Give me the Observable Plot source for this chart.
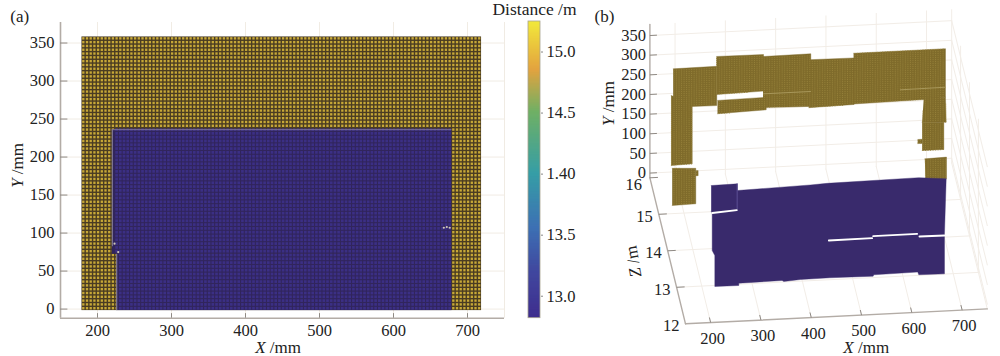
<!DOCTYPE html>
<html>
<head>
<meta charset="utf-8">
<script src="https://cdn.jsdelivr.net/npm/d3@7"></script>
<script src="https://cdn.jsdelivr.net/npm/@observablehq/plot@0.6"></script>
<style>
html,body{margin:0;padding:0;background:#fff}
#chart{position:relative;width:1000px;height:356px;overflow:hidden}
#chart svg{position:absolute;left:0;top:0}
#chart svg, #chart svg text, #chart svg tspan{font-family:'Liberation Serif','DejaVu Serif',serif !important;font-variant:normal !important;font-variant-numeric:normal !important}
</style>
</head>
<body>
<div id="chart"></div>
<script>
// ---- axis ticks ----
const xTicksA = [200, 300, 400, 500, 600, 700];
const yTicksA = [0, 50, 100, 150, 200, 250, 300, 350];
const xTicksB = [200, 300, 400, 500, 600, 700];
const yTicksB = [0, 50, 100, 150, 200, 250, 300, 350];
const zTicksB = [12, 13, 14, 15, 16];
const barTicks = [13, 13.5, 14, 14.5, 15];
const barTickLabels = ["13.0", "13.5", "1.40", "14.5", "15.0"];

// ---- distances ----
const wallDistance = 15.05;
const doorDistance = 12.9;
const colorStops = [12.82, 13.2, 13.55, 14, 14.5, 14.85, 15.25];
const colorRange = ["#3f2e8e", "#40489f", "#3d70b4", "#369ea6", "#6fb065", "#e3a33f", "#f2ea3b"];

// ---- panel (a): sampled grid, mm ----
const gridX = d3.range(179, 719, 5);
const gridY = d3.range(-2, 358, 5);
const doorEdges = [
  {below: 72, left: 226, right: 679},
  {below: 82, left: 223, right: 679},
  {below: 236, left: 220, right: 679}
];
const edgeSpecks = [[228, 75], [223, 86], [668, 107], [672, 108], [676, 107]];

// ---- panel (b): pieces of the wall, [X mm, Y mm] ----
const wallPieces = [
  [[178.4,94],[225.3,91],[225.3,0.7],[178.4,-0.7]],
  [[225,85],[230,85],[230,72],[225,72]],
  [[176.4,279],[218.2,264],[218.2,103],[176.4,101]],
  [[180.4,347],[267,348],[267,248],[180.4,249]],
  [[266.5,373],[360,372],[360,279],[266.5,276]],
  [[268.5,261],[365.3,263],[365.3,231],[268.5,227]],
  [[359,367],[454,368],[454,234],[359,237]],
  [[450,353],[540,352],[540,233.5],[450,231]],
  [[539,364],[721.7,364],[721.7,240.6],[678.6,237.5],[539,235]],
  [[678.6,242.5],[721.7,240.6],[723.1,177],[675.4,180]],
  [[675.4,180],[718.4,177],[718.4,107.7],[675.4,108]],
  [[666.7,136.5],[675.4,136.5],[675.4,126],[666.7,126]],
  [[680.6,86.4],[723.8,88],[723.8,33],[682,31]]
];
const wallSeams = [
  [[360,272],[453.4,272]],
  [[632,265],[721.7,266]]
];
const doorOutline = [
  [217,252],[268.7,253],[268.7,236],[414.4,241],[447.6,243],[629.7,246],[684.2,240],
  [680.8,100],[680.8,-2],[629.7,-1],[627.7,6],[540.2,4.5],[539,1],[452.8,2.4],[394.5,1.7],
  [361.3,-1.3],[358,1.5],[271.9,0],[271.9,-5.8],[224.2,-5.4],[224.2,73.5],[219,86.6],[219,180],[217,186]
];
const doorGaps = [
  [[219,182],[268,186]],
  [[450.8,97.4],[537,97.8]],
  [[539,102.8],[626.5,103.4]],
  [[631,96.2],[680.8,95.6]]
];
const doorSeam = [[268.7,253],[268.7,190]];

// ---- helpers ----
const serif = "'Liberation Serif', 'DejaVu Serif', serif";
const colorOpts = {type: "linear", domain: colorStops, range: colorRange};
const chart = document.getElementById("chart");
const common = {width: 1000, height: 356, style: {background: "transparent", fontFamily: serif, fontSize: "16.5px", color: "#222"}};

function italicise(svg) {
  d3.select(svg).selectAll("text").each(function () {
    const m = /^([XYZ]) (\/mm?)$/.exec(this.textContent.trim());
    if (!m) return;
    const el = d3.select(this);
    el.text("");
    el.append("tspan").attr("font-style", "italic").text(m[1]);
    el.append("tspan").text(" " + m[2]);
  });
  return svg;
}

// ---- panel (a) ----
const cells = [];
for (const x of gridX) for (const y of gridY) {
  const band = doorEdges.find(d => y < d.below);
  const inDoor = band && x >= band.left && x + 5 <= band.right + 2;
  cells.push({x, y, v: inDoor ? doorDistance : wallDistance});
}
const wallCells = cells.filter(d => d.v === wallDistance);
const doorCells = cells.filter(d => d.v === doorDistance);

const plotA = Plot.plot({
  ...common,
  marginLeft: 60, marginRight: 496, marginTop: 22, marginBottom: 38.3,
  x: {domain: [150, 750]},
  y: {domain: [-12, 377]},
  color: colorOpts,
  marks: [
    Plot.gridX(xTicksA, {stroke: "#f1ece4", strokeOpacity: 1, y1: -12, y2: 377}),
    Plot.gridY(yTicksA, {stroke: "#f1ece4", strokeOpacity: 1, x1: 150, x2: 750}),
    Plot.ruleX([750], {stroke: "#f0ebe3"}),
    Plot.rect([{}], {x1: 179, x2: 719, y1: -2, y2: 358, fill: "#4a3c22"}),
    Plot.rect(wallCells, {x1: "x", x2: d => d.x + 5, y1: "y", y2: d => d.y + 5, fill: "v", inset: 0.7, fillOpacity: 0.78}),
    Plot.rect([{}], {x1: 220, x2: 679, y1: 72, y2: 236, fill: "#31255c"}),
    Plot.rect([{}], {x1: 226, x2: 679, y1: -2, y2: 72, fill: "#31255c"}),
    Plot.rect(doorCells, {x1: "x", x2: d => d.x + 5, y1: "y", y2: d => d.y + 5, fill: "v", inset: 0.55, fillOpacity: 0.76}),
    Plot.ruleX([220], {y1: 82, y2: 236, stroke: "#a39db2", strokeWidth: 0.8}),
    Plot.ruleX([226], {y1: -2, y2: 72, stroke: "#a39db2", strokeWidth: 0.8}),
    Plot.ruleY([236], {x1: 220, x2: 679, stroke: "#8d83a3", strokeWidth: 0.8}),
    Plot.dot(edgeSpecks, {x: d => d[0], y: d => d[1], r: 1.1, fill: "#cfc7b8", stroke: "none"}),
    Plot.ruleX([150], {stroke: "#b3aca6", strokeWidth: 1.6}),
    Plot.ruleY([-12], {stroke: "#b3aca6", strokeWidth: 1.6}),
    Plot.ruleX(xTicksA, {y1: -12, y2: -6, stroke: "#8f8a85"}),
    Plot.ruleY(yTicksA, {x1: 150, x2: 160, stroke: "#8f8a85"}),
    Plot.axisX(xTicksA, {tickSize: 0, tickPadding: 6, fontSize: 16.5, label: null, tickFormat: d => d}),
    Plot.axisY(yTicksA, {tickSize: 0, tickPadding: 6, fontSize: 16.5, label: null, tickFormat: d => d}),
    Plot.text(["X /mm"], {x: 444, y: -50, fontSize: 17}),
    Plot.text(["Y /mm"], {x: 92.6, y: 189, rotate: -90, fontSize: 17}),
    Plot.text(["(a)"], {x: 95, y: 385, fontSize: 17})
  ]
});
chart.appendChild(italicise(plotA));

// ---- colour bar ----
const barValues = d3.range(12.82, 15.25, 0.01);
const plotBar = Plot.plot({
  ...common,
  marginLeft: 528, marginRight: 460, marginTop: 21, marginBottom: 38.3,
  x: {domain: [0, 1], axis: null},
  y: {domain: [12.82, 15.25]},
  color: colorOpts,
  marks: [
    Plot.rect(barValues, {x1: 0, x2: 1, y1: d => d, y2: d => Math.min(15.25, d + 0.025), fill: d => d}),
    Plot.rect([{}], {x1: 0, x2: 1, y1: 12.82, y2: 15.25, stroke: "#a8a490", strokeWidth: 0.8}),
    Plot.axisY(barTicks, {anchor: "right", tickSize: 2, tickPadding: 4, fontSize: 16.5, label: null, stroke: "#888",
      tickFormat: d => barTickLabels[barTicks.indexOf(d)]}),
    Plot.text(["Distance /m"], {x: 0.5, y: 15.35, fontSize: 17.5})
  ]
});
chart.appendChild(plotBar);

// ---- panel (b): fixed oblique view of the box ----
function view(X, Y, Z) {
  return {
    u: 685 + 0.503 * (X - 150) - 8.9 * (Z - 12),
    v: 323.3 - 0.0248 * (X - 150) - 36.5 * (Z - 12) - 0.393 * (Y + 12)
  };
}
const X0 = 150, X1 = 750, Y0 = -12, Y1 = 378, Z0 = 12, Z1 = 16;
const wallZ = 15.1, doorZ = 12.9;

function segment(id, a, b) {
  return [{id, ...view(...a)}, {id, ...view(...b)}];
}
const gridLines = [];
let n = 0;
for (const x of xTicksB) {
  gridLines.push(...segment(n++, [x, Y0, Z1], [x, Y1, Z1]));
  gridLines.push(...segment(n++, [x, Y0, Z0], [x, Y0, Z1]));
}
for (const y of yTicksB) {
  gridLines.push(...segment(n++, [X0, y, Z1], [X1, y, Z1]));
  gridLines.push(...segment(n++, [X1, y, Z0], [X1, y, Z1]));
}
for (const z of zTicksB.slice(1, -1)) {
  gridLines.push(...segment(n++, [X0, Y0, z], [X1, Y0, z]));
  gridLines.push(...segment(n++, [X1, Y0, z], [X1, Y1, z]));
}
gridLines.push(...segment(n++, [X1, Y0, Z0], [X1, Y0, Z1]));
gridLines.push(...segment(n++, [X1, Y0, Z1], [X1, Y1, Z1]));

const axisLines = [
  ...segment("x", [X0, Y0, Z0], [X1, Y0, Z0]),
  ...segment("z", [X0, Y0, Z0], [X0, Y0, Z1]),
  ...segment("y", [X0, Y0, Z1], [X0, Y1, Z1])
];

const pathRows = (list, z) => list.flatMap((p, id) => p.map(([X, Y]) => ({id, ...view(X, Y, z)})));
const wallRows = pathRows(wallPieces, wallZ);
const seamRows = pathRows(wallSeams, wallZ);
const doorRows = doorOutline.map(([X, Y]) => ({id: 0, ...view(X, Y, doorZ)}));
const gapRows = pathRows(doorGaps, doorZ);
const doorSeamRows = pathRows([doorSeam], doorZ);

const wallDots = [];
for (let x = 177; x < 725; x += 5) for (let y = -2; y < 375; y += 5) {
  if (wallPieces.some(p => d3.polygonContains(p, [x, y]))) wallDots.push(view(x, y, wallZ));
}

const xTickRows = xTicksB.map(t => ({t, a: view(t, Y0, Z0), b: view(t, Y0, Z0 + 0.14)}));
const yTickRows = yTicksB.map(t => ({t, a: view(X0, t, Z1), b: view(X0 + 14, t, Z1)}));
const zTickRows = zTicksB.slice(1).map(t => ({t, a: view(X0, Y0, t), b: view(X0 + 16, Y0, t)}));
const zLabelRows = zTicksB.map(t => ({t, a: view(X0, Y0, t)}));

const plotB = Plot.plot({
  ...common,
  margin: 0,
  x: {type: "identity", axis: null},
  y: {type: "identity", axis: null},
  marks: [
    Plot.line(gridLines, {x: "u", y: "v", z: "id", stroke: "#f2ede7", strokeWidth: 1}),
    Plot.line(wallRows, {x: "u", y: "v", z: "id", fill: "#7f6b2b", stroke: "#7f6b2b", strokeWidth: 0.4}),
    Plot.dot(wallDots, {x: "u", y: "v", r: 0.6, fill: "#95803a", stroke: "none"}),
    Plot.line(seamRows, {x: "u", y: "v", z: "id", stroke: "#a8975a", strokeWidth: 1}),
    Plot.line(doorRows, {x: "u", y: "v", z: "id", fill: "#392a6c", stroke: "#392a6c", strokeWidth: 0.4}),
    Plot.line(doorSeamRows, {x: "u", y: "v", z: "id", stroke: "#574a8e", strokeWidth: 1.2}),
    Plot.line(gapRows, {x: "u", y: "v", z: "id", stroke: "#ffffff", strokeWidth: 1.8}),
    Plot.line(axisLines, {x: "u", y: "v", z: "id", stroke: "#b3aca6", strokeWidth: 1.4}),
    Plot.link(xTickRows, {x1: d => d.a.u, y1: d => d.a.v, x2: d => d.b.u, y2: d => d.b.v, stroke: "#8f8a85"}),
    Plot.link(yTickRows, {x1: d => d.a.u, y1: d => d.a.v, x2: d => d.b.u, y2: d => d.b.v, stroke: "#8f8a85"}),
    Plot.link(zTickRows, {x1: d => d.a.u, y1: d => d.a.v, x2: d => d.b.u, y2: d => d.b.v, stroke: "#8f8a85"}),
    Plot.text(xTickRows, {x: d => d.a.u, y: d => d.a.v, text: d => String(d.t), dx: 2, dy: 16, fontSize: 16.5}),
    Plot.text(yTickRows, {x: d => d.a.u, y: d => d.a.v, text: d => String(d.t), dx: -4, textAnchor: "end", fontSize: 16.5}),
    Plot.text(zLabelRows.filter(d => d.t < 16), {x: d => d.a.u, y: d => d.a.v, text: d => String(d.t), dx: -6, dy: 2, textAnchor: "end", fontSize: 16.5}),
    Plot.text(zLabelRows.filter(d => d.t === 16), {x: d => d.a.u, y: d => d.a.v, text: d => String(d.t), dx: -8, dy: 7, textAnchor: "end", fontSize: 16.5}),
    Plot.text(["X /mm"], {x: 865.7, y: 347, fontSize: 17}),
    Plot.text(["Y /mm"], {x: 608, y: 103, rotate: -90, fontSize: 17}),
    Plot.text(["Z /m"], {x: 633, y: 261, rotate: -100, fontSize: 17}),
    Plot.text(["(b)"], {x: 604, y: 16, fontSize: 17})
  ]
});
chart.appendChild(italicise(plotB));
</script>
</body>
</html>
